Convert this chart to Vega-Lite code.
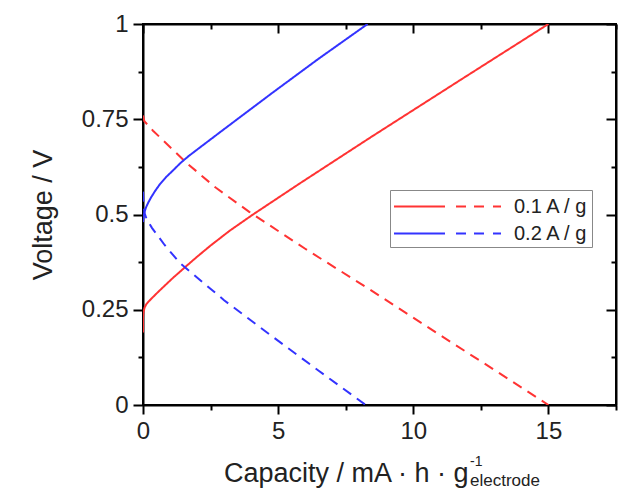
{
  "$schema": "https://vega.github.io/schema/vega-lite/v6.json",
  "width": 473,
  "height": 381,
  "autosize": {"type": "none"},
  "padding": {"left": 143, "top": 24, "right": 15, "bottom": 88},
  "background": "white",
  "config": {
    "font": "Liberation Sans",
    "view": {"stroke": "black", "strokeWidth": 2},
    "axis": {"domainColor": "black", "domainWidth": 2, "tickColor": "black", "tickWidth": 2, "labelColor": "#222", "titleColor": "#222", "grid": false, "labelFont": "Liberation Sans", "titleFont": "Liberation Sans", "titleFontWeight": "normal", "labelFlush": false}
  },
  "title": {
    "text": "-1",
    "subtitle": "electrode",
    "orient": "bottom",
    "anchor": "start",
    "frame": "group",
    "dx": 327,
    "dy": -35,
    "fontSize": 14,
    "fontWeight": "normal",
    "color": "#222",
    "subtitleFontSize": 17,
    "subtitleColor": "#222",
    "subtitlePadding": 4,
    "font": "Liberation Sans",
    "subtitleFont": "Liberation Sans"
  },
  "data": {
    "values": [
      {"rate": "0.1 A / g", "branch": "charge", "i": 0, "x": 0, "v": 0.19},
      {"rate": "0.1 A / g", "branch": "charge", "i": 1, "x": 0, "v": 0.23},
      {"rate": "0.1 A / g", "branch": "charge", "i": 2, "x": 0.02, "v": 0.245},
      {"rate": "0.1 A / g", "branch": "charge", "i": 3, "x": 0.06, "v": 0.256},
      {"rate": "0.1 A / g", "branch": "charge", "i": 4, "x": 0.12, "v": 0.264},
      {"rate": "0.1 A / g", "branch": "charge", "i": 5, "x": 0.2, "v": 0.271},
      {"rate": "0.1 A / g", "branch": "charge", "i": 6, "x": 0.35, "v": 0.282},
      {"rate": "0.1 A / g", "branch": "charge", "i": 7, "x": 0.55, "v": 0.296},
      {"rate": "0.1 A / g", "branch": "charge", "i": 8, "x": 0.8, "v": 0.313},
      {"rate": "0.1 A / g", "branch": "charge", "i": 9, "x": 1.1, "v": 0.333},
      {"rate": "0.1 A / g", "branch": "charge", "i": 10, "x": 1.56, "v": 0.362},
      {"rate": "0.1 A / g", "branch": "charge", "i": 11, "x": 2.0, "v": 0.389},
      {"rate": "0.1 A / g", "branch": "charge", "i": 12, "x": 2.5, "v": 0.4185},
      {"rate": "0.1 A / g", "branch": "charge", "i": 13, "x": 3.2, "v": 0.457},
      {"rate": "0.1 A / g", "branch": "charge", "i": 14, "x": 4.07, "v": 0.5},
      {"rate": "0.1 A / g", "branch": "charge", "i": 15, "x": 5.81, "v": 0.582},
      {"rate": "0.1 A / g", "branch": "charge", "i": 16, "x": 8.41, "v": 0.702},
      {"rate": "0.1 A / g", "branch": "charge", "i": 17, "x": 11.74, "v": 0.853},
      {"rate": "0.1 A / g", "branch": "charge", "i": 18, "x": 15, "v": 1},
      {"rate": "0.1 A / g", "branch": "discharge", "i": 0, "x": 0, "v": 0.76},
      {"rate": "0.1 A / g", "branch": "discharge", "i": 1, "x": 0.05, "v": 0.745},
      {"rate": "0.1 A / g", "branch": "discharge", "i": 2, "x": 0.37, "v": 0.72},
      {"rate": "0.1 A / g", "branch": "discharge", "i": 3, "x": 1.62, "v": 0.635},
      {"rate": "0.1 A / g", "branch": "discharge", "i": 4, "x": 2.7, "v": 0.57},
      {"rate": "0.1 A / g", "branch": "discharge", "i": 5, "x": 3.93, "v": 0.507},
      {"rate": "0.1 A / g", "branch": "discharge", "i": 6, "x": 6, "v": 0.41},
      {"rate": "0.1 A / g", "branch": "discharge", "i": 7, "x": 8.35, "v": 0.305},
      {"rate": "0.1 A / g", "branch": "discharge", "i": 8, "x": 11, "v": 0.183},
      {"rate": "0.1 A / g", "branch": "discharge", "i": 9, "x": 13, "v": 0.092},
      {"rate": "0.1 A / g", "branch": "discharge", "i": 10, "x": 15, "v": 0},
      {"rate": "0.2 A / g", "branch": "charge", "i": 0, "x": 0, "v": 0.48},
      {"rate": "0.2 A / g", "branch": "charge", "i": 1, "x": 0.02, "v": 0.495},
      {"rate": "0.2 A / g", "branch": "charge", "i": 2, "x": 0.06, "v": 0.508},
      {"rate": "0.2 A / g", "branch": "charge", "i": 3, "x": 0.12, "v": 0.52},
      {"rate": "0.2 A / g", "branch": "charge", "i": 4, "x": 0.2, "v": 0.532},
      {"rate": "0.2 A / g", "branch": "charge", "i": 5, "x": 0.3, "v": 0.545},
      {"rate": "0.2 A / g", "branch": "charge", "i": 6, "x": 0.45, "v": 0.562},
      {"rate": "0.2 A / g", "branch": "charge", "i": 7, "x": 0.63, "v": 0.58},
      {"rate": "0.2 A / g", "branch": "charge", "i": 8, "x": 0.85, "v": 0.598},
      {"rate": "0.2 A / g", "branch": "charge", "i": 9, "x": 1.1, "v": 0.615},
      {"rate": "0.2 A / g", "branch": "charge", "i": 10, "x": 1.4, "v": 0.636},
      {"rate": "0.2 A / g", "branch": "charge", "i": 11, "x": 1.7, "v": 0.654},
      {"rate": "0.2 A / g", "branch": "charge", "i": 12, "x": 2.2, "v": 0.681},
      {"rate": "0.2 A / g", "branch": "charge", "i": 13, "x": 3, "v": 0.724},
      {"rate": "0.2 A / g", "branch": "charge", "i": 14, "x": 4.78, "v": 0.819},
      {"rate": "0.2 A / g", "branch": "charge", "i": 15, "x": 6.5, "v": 0.909},
      {"rate": "0.2 A / g", "branch": "charge", "i": 16, "x": 8.31, "v": 1},
      {"rate": "0.2 A / g", "branch": "discharge", "i": 0, "x": 0, "v": 0.56},
      {"rate": "0.2 A / g", "branch": "discharge", "i": 1, "x": 0.02, "v": 0.525},
      {"rate": "0.2 A / g", "branch": "discharge", "i": 2, "x": 0.06, "v": 0.503},
      {"rate": "0.2 A / g", "branch": "discharge", "i": 3, "x": 0.14, "v": 0.487},
      {"rate": "0.2 A / g", "branch": "discharge", "i": 4, "x": 0.33, "v": 0.465},
      {"rate": "0.2 A / g", "branch": "discharge", "i": 5, "x": 0.8, "v": 0.42},
      {"rate": "0.2 A / g", "branch": "discharge", "i": 6, "x": 1.36, "v": 0.373},
      {"rate": "0.2 A / g", "branch": "discharge", "i": 7, "x": 3, "v": 0.275},
      {"rate": "0.2 A / g", "branch": "discharge", "i": 8, "x": 4.78, "v": 0.18},
      {"rate": "0.2 A / g", "branch": "discharge", "i": 9, "x": 6.5, "v": 0.09},
      {"rate": "0.2 A / g", "branch": "discharge", "i": 10, "x": 8.24, "v": 0}
    ]
  },
  "resolve": {"axis": {"x": "independent", "y": "independent"}},
  "layer": [
    {
      "mark": {"type": "line", "strokeWidth": 2, "clip": true},
      "encoding": {
        "x": {
          "field": "x", "type": "quantitative",
          "scale": {"domain": [0, 17.5], "nice": false, "zero": false},
          "axis": {
            "orient": "bottom",
            "title": "Capacity / mA · h · g",
            "values": [0, 2.5, 5, 7.5, 10, 12.5, 15, 17.5],
            "labelExpr": "datum.value % 5 === 0 ? datum.label : ''",
            "tickSize": {"condition": {"test": "datum.value % 5 === 0", "value": 9}, "value": 5},
            "labelFontSize": 24,
            "labelPadding": 5,
            "titleFontSize": 27,
            "titlePadding": 17,
            "titleX": 325,
            "titleAlign": "right",
            "titleAnchor": "end"
          }
        },
        "y": {
          "field": "v", "type": "quantitative",
          "scale": {"domain": [0, 1], "nice": false, "zero": false},
          "axis": {
            "orient": "left",
            "title": "Voltage / V",
            "values": [0, 0.125, 0.25, 0.375, 0.5, 0.625, 0.75, 0.875, 1],
            "labelExpr": "(datum.value * 4) % 1 === 0 ? '' + datum.value : ''",
            "tickSize": {"condition": {"test": "(datum.value * 4) % 1 === 0", "value": 10}, "value": 5},
            "labelFontSize": 24,
            "labelPadding": 5,
            "titleFontSize": 27,
            "titlePadding": 24
          }
        },
        "color": {
          "field": "rate", "type": "nominal",
          "scale": {"domain": ["0.1 A / g", "0.2 A / g"], "range": ["#ff3333", "#3333ff"]},
          "legend": {
            "orient": "none",
            "legendX": 247,
            "legendY": 166,
            "title": null,
            "symbolType": "M-1,0H3.08M3.96,0H4.76M5.4,0H6.2M6.92,0H7.56",
            "symbolSize": 625,
            "symbolStrokeWidth": 2,
            "symbolFillColor": "transparent",
            "labelFontSize": 20,
            "labelColor": "#222",
            "labelOffset": 94,
            "rowPadding": 3,
            "padding": 3,
            "strokeColor": "#888",
            "fillColor": "white"
          }
        },
        "strokeDash": {
          "field": "branch", "type": "nominal",
          "scale": {"domain": ["charge", "discharge"], "range": [[1, 0], [10, 7]]},
          "legend": null
        },
        "order": {"field": "i", "type": "quantitative"}
      }
    },
    {
      "mark": {"type": "line", "opacity": 0},
      "encoding": {
        "x": {
          "field": "x", "type": "quantitative",
          "axis": {
            "orient": "top", "title": null, "labels": false,
            "values": [0, 2.5, 5, 7.5, 10, 12.5, 15, 17.5],
            "tickSize": {"condition": {"test": "datum.value % 5 === 0", "value": -9}, "value": -5}
          }
        },
        "y": {
          "field": "v", "type": "quantitative",
          "axis": {
            "orient": "right", "title": null, "labels": false,
            "values": [0, 0.125, 0.25, 0.375, 0.5, 0.625, 0.75, 0.875, 1],
            "tickSize": {"condition": {"test": "(datum.value * 4) % 1 === 0", "value": -10}, "value": -5}
          }
        },
        "detail": {"field": "rate"}
      }
    }
  ]
}
